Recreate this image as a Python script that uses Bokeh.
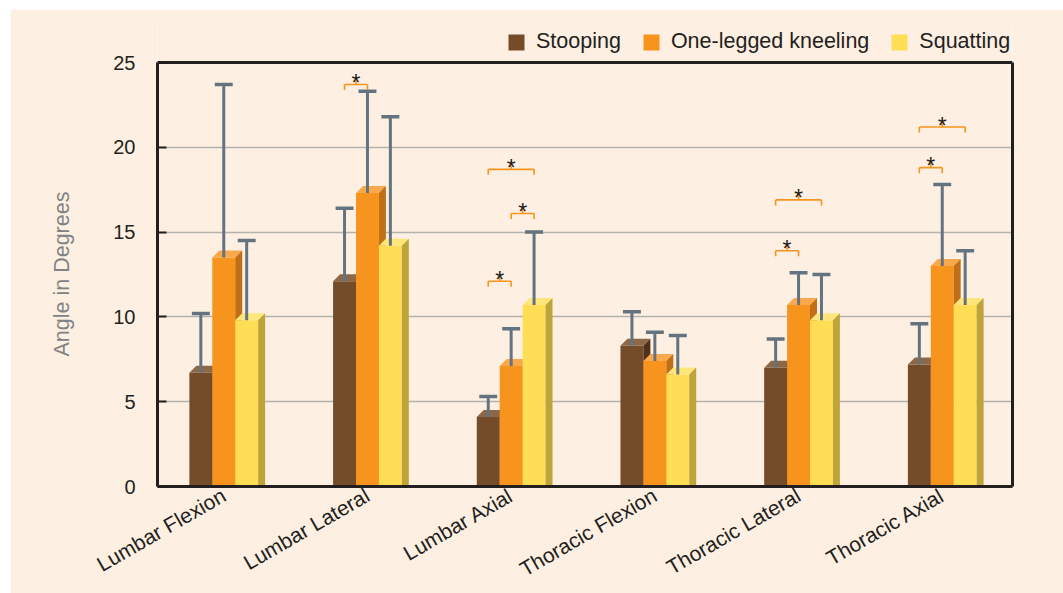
import math
from bokeh.plotting import figure
from bokeh.models import (ColumnDataSource, Range1d, FixedTicker, Legend, LegendItem,
                          LinearAxis, Title)
from bokeh.embed import file_html
from bokeh.resources import INLINE

# ---- data -------------------------------------------------------------
categories = ["Lumbar Flexion", "Lumbar Lateral", "Lumbar Axial",
              "Thoracic Flexion", "Thoracic Lateral", "Thoracic Axial"]
series_names = ["Stooping", "One-legged kneeling", "Squatting"]

stooping = [6.7, 12.1, 4.1, 8.3, 7.0, 7.2]
stooping_sd = [3.5, 4.3, 1.2, 2.0, 1.7, 2.4]
kneeling = [13.5, 17.3, 7.1, 7.4, 10.7, 13.0]
kneeling_sd = [10.2, 6.0, 2.2, 1.7, 1.9, 4.8]
squatting = [9.8, 14.2, 10.7, 6.6, 9.8, 10.7]
squatting_sd = [4.7, 7.6, 4.3, 2.3, 2.7, 3.2]

# significant pairs: (category index, first series, second series, bracket height)
sig_category = [1, 2, 2, 2, 4, 4, 5, 5]
sig_first = [0, 0, 1, 0, 0, 0, 0, 0]
sig_second = [1, 2, 2, 1, 2, 1, 2, 1]
sig_level = [23.7, 18.7, 16.1, 12.1, 16.9, 13.9, 21.2, 18.8]

y_ticks = [0, 5, 10, 15, 20, 25]
Y_MAX = 25

# ---- styling ----------------------------------------------------------
BG = "#FDF0E2"
TEXT = "#231F20"
front_colors = ["#754C29", "#F7941D", "#FFDE55"]
top_colors = ["#8C6849", "#F9A84B", "#FFE67A"]
side_colors = ["#4E3218", "#C06F16", "#BFA43A"]
ERR = "#63737F"
BRACKET = "#F7941D"
FONT = "Liberation Sans"

# plot box 858 x 424 px; the frame reaches 42 px higher to hold the legend
BOX_W, BOX_H, HEADROOM = 858, 424, 42
X0, X1 = -0.4854, 5.4646
PX_X = (X1 - X0) / BOX_W        # data units per pixel
PX_Y = Y_MAX / BOX_H
Y_TOP = Y_MAX + HEADROOM * PX_Y

BAR_W = 23 * PX_X
DEPTH_X = 7 * PX_X
DEPTH_Y = 7 * PX_Y
CAP = 18 * PX_X

p = figure(width=1053, height=584, output_backend="svg", toolbar_location=None,
           x_range=Range1d(X0, X1), y_range=Range1d(0, Y_TOP),
           x_axis_location=None,
           min_border_left=144, min_border_right=51,
           min_border_top=11, min_border_bottom=107,
           background_fill_color=BG, border_fill_color=BG)
p.margin = (9, 0, 0, 10)
p.outline_line_color = None

p.xgrid.visible = False
p.ygrid.ticker = FixedTicker(ticks=y_ticks[1:-1])
p.ygrid.grid_line_color = "#B5B2AD"
p.ygrid.grid_line_width = 1.5

ax = p.yaxis[0]
ax.ticker = FixedTicker(ticks=y_ticks)
ax.bounds = (0, Y_MAX)
ax.axis_line_color = TEXT
ax.axis_line_width = 3
ax.major_tick_in = 9
ax.major_tick_out = 0
ax.major_tick_line_color = TEXT
ax.major_tick_line_width = 2
ax.minor_tick_line_color = None
ax.major_label_standoff = 22
ax.major_label_text_font = FONT
ax.major_label_text_font_size = "20px"
ax.major_label_text_color = TEXT

# y-axis title, placed along the 0-25 box rather than the taller frame
p.add_layout(Title(text="Angle in Degrees", align="left", offset=130,
                   standoff=74, text_font=FONT, text_font_size="21.5px",
                   text_font_style="normal", text_color="#808285"), "left")

# right-hand edge of the plot box
rax = LinearAxis(ticker=FixedTicker(ticks=[]), bounds=(0, Y_MAX),
                 axis_line_color=TEXT, axis_line_width=3,
                 major_tick_line_color=None, minor_tick_line_color=None,
                 major_tick_in=0, major_tick_out=0)
p.add_layout(rax, "right")

values = [stooping, kneeling, squatting]
sds = [stooping_sd, kneeling_sd, squatting_sd]


def bar_center(cat, k):
    return cat - DEPTH_X / 2 + (k - 1) * BAR_W


# category axis with slanted labels
group_centers = [bar_center(i, 1) for i in range(len(categories))]
xax = LinearAxis(ticker=FixedTicker(ticks=group_centers),
                 major_label_overrides={c: name for c, name in zip(group_centers, categories)},
                 major_label_orientation=math.radians(30),
                 major_label_standoff=7,
                 major_label_text_font=FONT, major_label_text_font_size="21px",
                 major_label_text_color=TEXT,
                 axis_line_color=TEXT, axis_line_width=3, major_tick_line_color=None,
                 minor_tick_line_color=None, major_tick_in=0, major_tick_out=0)
p.add_layout(xax, "below")

# top edge of the plot box
p.segment(x0=[X0], y0=[Y_MAX], x1=[X1], y1=[Y_MAX], line_color=TEXT, line_width=3)

legend_items = []
for k in range(3):
    xs = [bar_center(i, k) for i in range(len(categories))]
    vals = values[k]
    src = ColumnDataSource(dict(x=xs, top=vals))
    r = p.vbar(x="x", top="top", bottom=0, width=BAR_W, source=src,
               fill_color=front_colors[k], line_color=None)
    legend_items.append(LegendItem(label=series_names[k], renderers=[r]))

    top_xs, top_ys, side_xs, side_ys = [], [], [], []
    for x, v in zip(xs, vals):
        xl, xr = x - BAR_W / 2, x + BAR_W / 2
        top_xs.append([xl, xr, xr + DEPTH_X, xl + DEPTH_X])
        top_ys.append([v, v, v + DEPTH_Y, v + DEPTH_Y])
        side_xs.append([xr, xr, xr + DEPTH_X, xr + DEPTH_X])
        side_ys.append([0, v, v + DEPTH_Y, 0])
    p.patches(top_xs, top_ys, fill_color=top_colors[k], line_color=None)
    p.patches(side_xs, side_ys, fill_color=side_colors[k], line_color=None)

# error bars (mean up to mean + SD)
for k in range(3):
    xs = [bar_center(i, k) for i in range(len(categories))]
    tops = [v + s for v, s in zip(values[k], sds[k])]
    p.segment(x0=xs, y0=values[k], x1=xs, y1=tops, line_color=ERR, line_width=3)
    p.segment(x0=[x - CAP / 2 for x in xs], y0=tops, x1=[x + CAP / 2 for x in xs], y1=tops,
              line_color=ERR, line_width=3.5)

# significance brackets with asterisks
TICK_DOWN = 5.5 * PX_Y
STEM_UP = 8 * PX_Y
bx0, by0, bx1, by1 = [], [], [], []
star_x, star_y = [], []
for c, a, b, lvl in zip(sig_category, sig_first, sig_second, sig_level):
    xa, xb = bar_center(c, a), bar_center(c, b)
    xm = (xa + xb) / 2
    bx0 += [xa, xa, xb, xm]
    by0 += [lvl, lvl - TICK_DOWN, lvl - TICK_DOWN, lvl]
    bx1 += [xb, xa, xb, xm]
    by1 += [lvl, lvl, lvl, lvl + STEM_UP]
    star_x.append(xm)
    star_y.append(lvl + 1.4 * PX_Y)
p.segment(x0=bx0, y0=by0, x1=bx1, y1=by1, line_color=BRACKET, line_width=1.6)
p.text(x=star_x, y=star_y, text=["*"] * len(star_x), text_align="center",
       text_baseline="alphabetic", text_font_size="23px", text_color=TEXT,
       text_font={"value": FONT})

legend = Legend(items=legend_items, orientation="horizontal", location=(349, 432),
                padding=0, margin=0, spacing=20, label_standoff=10,
                glyph_width=20, glyph_height=20,
                label_text_font=FONT, label_text_font_size="21.5px",
                label_text_color=TEXT, background_fill_alpha=0,
                border_line_alpha=0)
p.add_layout(legend)

open("out.html", "w").write(file_html(p, INLINE))
